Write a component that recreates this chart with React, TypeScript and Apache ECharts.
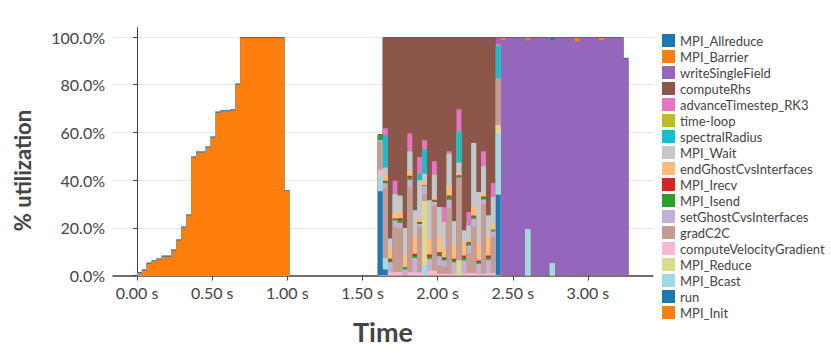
import { useEffect, useRef } from 'react';
import * as echarts from 'echarts';

// ---- data ----
const BIN_SECONDS = 0.0327; // width of one time bin
const BIN_COUNT = 100;
const PHASE1_START = 0;   // bins 0..30
const PHASE2_START = 49;  // bins 49..73
const PHASE3_START = 74;  // bins 74..99

const xTicks = [0, 0.5, 1, 1.5, 2, 2.5, 3];
const yTicks = [0, 20, 40, 60, 80, 100];

// series, bottom of the stack first
const seriesNames = [
  'MPI_Init', 'run', 'MPI_Bcast', 'MPI_Reduce', 'computeVelocityGradient', 'gradC2C',
  'setGhostCvsInterfaces', 'MPI_Isend', 'MPI_Irecv', 'endGhostCvsInterfaces', 'MPI_Wait',
  'spectralRadius', 'time-loop', 'advanceTimestep_RK3', 'computeRhs', 'writeSingleField',
  'MPI_Barrier', 'MPI_Allreduce',
];
const seriesColors = [
  '#ff7f0e', '#1f77b4', '#9edae5', '#dbdb8d', '#f7b6d2', '#c49c94',
  '#c5b0d5', '#2ca02c', '#d62728', '#ffbb78', '#c7c7c7',
  '#17becf', '#bcbd22', '#e377c2', '#8c564b', '#9467bd',
  '#ff7f0e', '#1f77b4',
];

// phase 1 (initialisation), bins 0..30
const p1_MPI_Init = [1.1, 2.1, 4.9, 6.0, 6.7, 7.9, 7.9, 10.5, 14.7, 20.0, 25.2, 49.5, 51.6, 51.6, 53.7, 57.8, 68.3, 68.9, 68.9, 69.3, 80.0, 99.6, 99.6, 99.6, 99.6, 99.6, 99.6, 99.6, 99.6, 99.6, 35.5];
const p1_run = [0.4, 0.4, 0.4, 0.4, 0.4, 0.4, 0.4, 0.4, 0.4, 0.4, 0.4, 0.4, 0.4, 0.4, 0.4, 0.4, 0.4, 0.4, 0.4, 0.4, 0.4, 0.4, 0.4, 0.4, 0.4, 0.4, 0.4, 0.4, 0.4, 0.4, 0.4];

// phase 2 (time loop), bins 49..73
const p2_run = [35.3, 2.5, 0, 0, 0, 0, 0, 0, 0, 0, 0, 0, 0, 0, 0, 0, 0, 0, 0, 0, 0, 0, 0, 0, 33.9];
const p2_MPI_Bcast = [6.4, 4.7, 0, 0, 0, 0, 0, 0, 0, 4.0, 0, 0, 0, 0, 0, 0, 0, 0, 0, 0, 0, 0, 0, 0, 25.6];
const p2_MPI_Reduce = [0, 0, 0, 0, 0, 0, 0, 0, 0, 27.1, 0, 0, 0, 0, 0, 0, 6.3, 0, 0, 0, 0, 0, 0, 0, 3.5];
const p2_computeVelocityGradient = [2.8, 0, 1.4, 1.5, 1.4, 0, 1.4, 1.4, 1.4, 0, 2.1, 2.1, 0.7, 0.7, 0.7, 0.7, 0, 0.7, 1.0, 1.0, 0.7, 0.7, 1.0, 1.0, 0];
const p2_gradC2C = [11.5, 29.7, 0, 18.8, 18.4, 0, 35.5, 0, 18.8, 3.0, 0, 27.3, 3.5, 3.1, 27.7, 0, 34.7, 0, 8.1, 19.6, 0, 29.4, 0, 15.1, 19.6];
const p2_setGhostCvsInterfaces = [0.7, 1.8, 4.2, 2.8, 2.3, 2.5, 3.3, 5.9, 1.4, 3.5, 4.9, 1.4, 3.9, 2.5, 3.4, 4.9, 0, 5.6, 3.5, 3.2, 4.2, 1.8, 5.6, 2.4, 0];
const p2_MPI_Isend = [2.1, 0.6, 0.7, 0.5, 1.2, 0.6, 1.0, 0.9, 0.5, 0.4, 0.9, 0.7, 1.0, 0.8, 1.2, 0.8, 0.6, 1.2, 0.9, 0.9, 0.8, 0.8, 1.0, 0.7, 0];
const p2_MPI_Irecv = [0, 0.4, 0.7, 0.3, 0.8, 0.4, 0.6, 0.9, 0.3, 0, 0.9, 0.3, 0.7, 0.6, 0.6, 0.6, 0.4, 0.9, 0.4, 0.5, 0.6, 0.4, 0.8, 0, 0];
const p2_endGhostCvsInterfaces = [0, 2.1, 4.5, 2.2, 2.8, 5.6, 2.0, 7.0, 1.4, 1.2, 6.7, 0.7, 6.3, 3.5, 4.2, 5.6, 1.0, 5.8, 0.8, 3.8, 7.0, 1.2, 7.7, 2.8, 0];
const p2_MPI_Wait = [0, 3.5, 3.9, 8.0, 6.5, 10.8, 8.2, 11.2, 16.1, 3.5, 16.0, 9.8, 12.6, 11.2, 13.3, 10.2, 4.4, 4.7, 6.3, 26.6, 21.7, 11.5, 9.1, 10.9, 0];
const p2_spectralRadius = [0, 13.6, 0, 0, 0, 0, 0, 0, 2.8, 10.2, 0, 0, 0, 0, 0, 0, 13.0, 0, 0, 0, 0, 0, 0, 0, 13.6];
const p2_timeLoop = [0, 0, 0, 0, 0, 0, 0, 0, 0, 0, 0, 0, 0, 0, 0, 0, 0, 0, 0, 0, 0, 0, 0, 0, 0];
const p2_advanceTimestep_RK3 = [0, 2.9, 0, 5.6, 0, 0, 7.6, 0, 7.0, 3.8, 0, 5.6, 0, 6.2, 1.0, 0, 9.3, 0, 5.6, 0, 0, 6.3, 0, 5.9, 1.1];
const p2_computeRhs = [0, 37.8, 84.2, 59.9, 66.2, 79.7, 40.0, 72.3, 49.9, 42.9, 68.1, 51.7, 70.9, 71.0, 47.5, 76.8, 29.9, 80.7, 73.0, 44.0, 64.6, 47.5, 74.4, 60.8, 0];
const p2_writeSingleField = [0, 0, 0, 0, 0, 0, 0, 0, 0, 0, 0, 0, 0, 0, 0, 0, 0, 0, 0, 0, 0, 0, 0, 0, 2.3];
const p2_MPI_Allreduce = [0.5, 0.4, 0.4, 0.4, 0.4, 0.4, 0.4, 0.4, 0.4, 0.4, 0.4, 0.4, 0.4, 0.4, 0.4, 0.4, 0.4, 0.4, 0.4, 0.4, 0.4, 0.4, 0.4, 0.4, 0.4];

// phase 3 (output), bins 74..99
const p3_MPI_Bcast = [0, 0, 0, 0, 0, 19.3, 0, 0, 0, 0, 5.0, 0, 0, 0, 0, 0, 0, 0, 0, 0, 0, 0, 0, 0, 0, 0];
const p3_writeSingleField = [98.8, 99.6, 99.6, 99.6, 99.6, 79.4, 99.6, 99.6, 99.6, 99.6, 93.8, 99.6, 99.6, 99.6, 99.6, 98.2, 99.6, 99.6, 99.6, 99.6, 98.8, 99.6, 99.6, 99.6, 99.6, 90.8];
const p3_MPI_Barrier = [0.8, 0, 0, 0, 0, 0.9, 0, 0, 0, 0, 0, 0, 0, 0, 0, 1.4, 0, 0, 0, 0, 0.8, 0, 0, 0, 0, 0];
const p3_MPI_Allreduce = [0.4, 0.4, 0.4, 0.4, 0.4, 0.4, 0.4, 0.4, 0.4, 0.4, 1.2, 0.4, 0.4, 0.4, 0.4, 0.4, 0.4, 0.4, 0.4, 0.4, 0.4, 0.4, 0.4, 0.4, 0.4, 0.5];

const phaseData: Record<string, [number[] | null, number[] | null, number[] | null]> = {
  MPI_Init: [p1_MPI_Init, null, null],
  run: [p1_run, p2_run, null],
  MPI_Bcast: [null, p2_MPI_Bcast, p3_MPI_Bcast],
  MPI_Reduce: [null, p2_MPI_Reduce, null],
  computeVelocityGradient: [null, p2_computeVelocityGradient, null],
  gradC2C: [null, p2_gradC2C, null],
  setGhostCvsInterfaces: [null, p2_setGhostCvsInterfaces, null],
  MPI_Isend: [null, p2_MPI_Isend, null],
  MPI_Irecv: [null, p2_MPI_Irecv, null],
  endGhostCvsInterfaces: [null, p2_endGhostCvsInterfaces, null],
  MPI_Wait: [null, p2_MPI_Wait, null],
  spectralRadius: [null, p2_spectralRadius, null],
  'time-loop': [null, p2_timeLoop, null],
  advanceTimestep_RK3: [null, p2_advanceTimestep_RK3, null],
  computeRhs: [null, p2_computeRhs, null],
  writeSingleField: [null, p2_writeSingleField, p3_writeSingleField],
  MPI_Barrier: [null, null, p3_MPI_Barrier],
  MPI_Allreduce: [null, p2_MPI_Allreduce, p3_MPI_Allreduce],
};

function binsFor(name: string): number[] {
  const out = new Array(BIN_COUNT).fill(0);
  const [a, b, c] = phaseData[name];
  const starts = [PHASE1_START, PHASE2_START, PHASE3_START];
  [a, b, c].forEach((arr, k) => {
    if (arr) arr.forEach((v, i) => { out[starts[k] + i] = v; });
  });
  return out;
}

const FONT = 'Lato, "Open Sans", sans-serif';

export default function App() {
  const ref = useRef<HTMLDivElement>(null);
  useEffect(() => {
    if (!ref.current) return;
    const chart = echarts.init(ref.current, null, { renderer: 'svg' });
    // stack manually: each series is drawn as an area from 0 up to its cumulative top,
    // lower series painted over the upper ones.
    const running = new Array(BIN_COUNT).fill(0);
    const series = seriesNames.map((name, si) => {
      const bins = binsFor(name);
      const tops = bins.map((v, i) => (running[i] += v));
      const data: [number, number][] = tops.map((v, i) => [i * BIN_SECONDS, +v.toFixed(3)]);
      data.push([BIN_COUNT * BIN_SECONDS, 0]);
      return {
        name,
        type: 'line',
        step: 'end',
        data,
        symbol: 'none',
        showSymbol: false,
        silent: true,
        color: seriesColors[si],
        lineStyle: { width: 0 },
        areaStyle: { color: seriesColors[si], opacity: 1, origin: 'start' },
        z: 2,
      };
    });
    // draw top-most cumulative first so lower layers end up in front
    const drawOrder = [...series].reverse();
    chart.setOption({
      animation: false,
      backgroundColor: '#ffffff',
      textStyle: { fontFamily: FONT },
      grid: { left: 113, right: 178, top: 27.5, bottom: 78.5, containLabel: false },
      legend: {
        orient: 'vertical',
        left: 657,
        top: 29,
        itemWidth: 13,
        itemHeight: 13,
        itemGap: 3,
        icon: 'rect',
        selectedMode: false,
        data: [...seriesNames].reverse(),
        textStyle: { fontFamily: FONT, fontSize: 13, color: '#444' },
      },
      xAxis: {
        type: 'value',
        min: -0.16,
        max: 3.433,
        name: 'Time',
        nameLocation: 'middle',
        nameGap: 42,
        nameTextStyle: { fontFamily: FONT, fontSize: 27, fontWeight: 'bold', color: '#444' },
        axisLine: { show: true, lineStyle: { color: '#444', width: 1.5 } },
        axisTick: { show: true, length: 5, lineStyle: { color: '#444' }, customValues: xTicks },
        axisLabel: {
          customValues: xTicks,
          fontFamily: FONT, fontSize: 16, color: '#444', margin: 9,
          formatter: (v: number) => v.toFixed(2) + ' s',
        },
        splitLine: { show: false },
      },
      yAxis: {
        type: 'value',
        min: 0,
        max: 104,
        name: '% utilization',
        nameLocation: 'middle',
        nameRotate: 90,
        nameGap: 80,
        nameTextStyle: {
          fontFamily: FONT, fontSize: 22, fontWeight: 'bold', color: '#444',
          padding: [0, 38, 0, 0],
        },
        axisLine: { show: true, lineStyle: { color: '#444', width: 1 } },
        axisTick: { show: true, length: 4, lineStyle: { color: '#444' }, customValues: yTicks },
        axisLabel: {
          customValues: yTicks,
          fontFamily: FONT, fontSize: 16, color: '#444', margin: 8,
          formatter: (v: number) => v.toFixed(1) + '%',
        },
        splitLine: { show: true, lineStyle: { color: '#e6e6e6', width: 1 } },
      },
      series: drawOrder,
    });
    return () => chart.dispose();
  }, []);
  return <div ref={ref} style={{ width: 831, height: 354, position: 'absolute', left: 0, top: 0 }} />;
}
